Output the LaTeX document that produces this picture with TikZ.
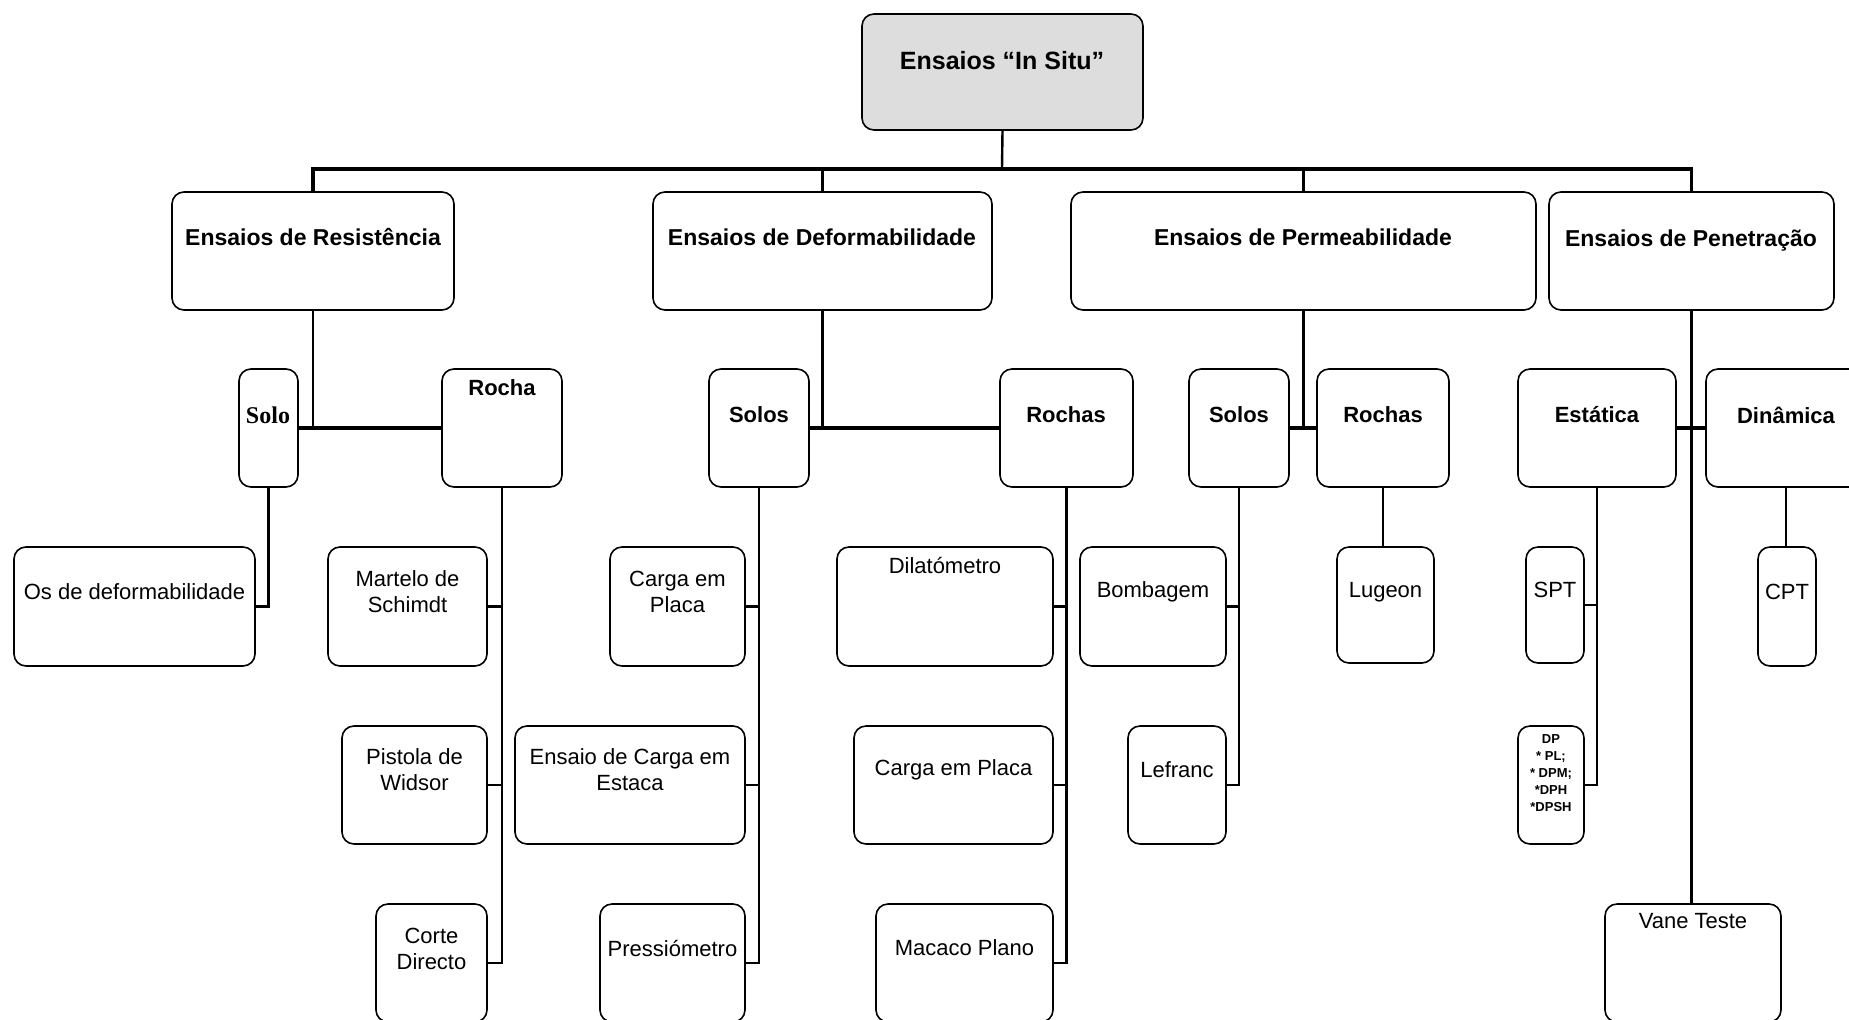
\documentclass[tikz,border=0pt]{standalone}
\usepackage{fontspec}
\setmainfont{Liberation Sans}
\newfontfamily\serifb{Liberation Serif}
\definecolor{rootgray}{HTML}{DDDDDD}
\tikzset{
  box/.style={draw, line width=0.8pt, rounded corners=6pt, inner sep=0pt},
  tx/.style={inner sep=0pt, align=center, font=\fontsize{11}{13}\selectfont},
  tb/.style={inner sep=0pt, align=center, font=\fontsize{11}{13}\selectfont\bfseries},
  tl/.style={inner sep=0pt, align=center, font=\fontsize{11.5}{13}\selectfont\bfseries},
  con/.style={line width=1.2pt},
  conb/.style={line width=1.8pt},
}
\newcommand\bx[6][]{\node[box,#1,minimum width={(#4-(#2))*0.5pt},minimum height={(#5-(#3))*0.5pt}] (#6) at ({(#2+#4)/2},{(#3+#5)/2}) {};}
\begin{document}
\begin{tikzpicture}[x=0.5pt,y=-0.5pt]
\useasboundingbox (0,0) rectangle (1849,1019);
% boxes
\bx[fill=rootgray]{862}{14}{1143}{130}{root}
\bx{172}{192}{454}{310}{res}
\bx{653}{192}{992}{310}{def}
\bx{1071}{192}{1536}{310}{perm}
\bx{1549}{192}{1834}{310}{pen}
\bx{239}{369}{298}{487}{solo1}
\bx{442}{369}{562}{487}{rocha1}
\bx{709}{369}{809}{487}{solos2}
\bx{1000}{369}{1133}{487}{rochas2}
\bx{1189}{369}{1289}{487}{solos3}
\bx{1317}{369}{1449}{487}{rochas3}
\bx{1518}{369}{1676}{487}{est}
\bx{1706}{369}{1866}{487}{din}
\bx{14}{547}{255}{666}{os}
\bx{328}{547}{487}{666}{mart}
\bx{610}{547}{745}{666}{carga1}
\bx{837}{547}{1053}{666}{dila}
\bx{1080}{547}{1226}{666}{bomb}
\bx{1337}{547}{1434}{663}{lug}
\bx{1526}{547}{1584}{663}{spt}
\bx{1758}{547}{1816}{666}{cpt}
\bx{342}{726}{487}{844}{pist}
\bx{515}{726}{745}{844}{estaca}
\bx{854}{726}{1053}{844}{carga2}
\bx{1128}{726}{1226}{844}{lef}
\bx{1518}{726}{1584}{844}{dp}
\bx{376}{904}{487}{1022}{corte}
\bx{600}{904}{745}{1022}{press}
\bx{876}{904}{1053}{1022}{macaco}
\bx{1605}{904}{1781}{1022}{vane}
% texts
\node[inner sep=0pt, font=\fontsize{12.5}{14}\selectfont\bfseries] (t-root) at (1002,61) {Ensaios “In Situ”};
\node[tl] (t-res) at (313,237) {Ensaios de Resistência};
\node[tl] (t-def) at (822,237) {Ensaios de Deformabilidade};
\node[tl] (t-perm) at (1303,237) {Ensaios de Permeabilidade};
\node[tl] (t-pen) at (1691,240.5) {Ensaios de Penetração};
\node[inner sep=0pt, font=\fontsize{12}{13}\selectfont\serifb\bfseries] (t-solo1) at (268,415) {Solo};
\node[tb] (t-rocha1) at (502,388) {Rocha};
\node[tb] (t-solos2) at (759,415) {Solos};
\node[tb] (t-rochas2) at (1066,415) {Rochas};
\node[tb] (t-solos3) at (1239,415) {Solos};
\node[tb] (t-rochas3) at (1383,415) {Rochas};
\node[tb] (t-est) at (1597,415) {Estática};
\node[tb] (t-din) at (1786,415) {Dinâmica};
\node[tx] (t-os) at (134.5,592) {Os de deformabilidade};
\node[tx] (t-mart) at (407.5,592) {Martelo de\\Schimdt};
\node[tx] (t-carga1) at (677.5,592) {Carga em\\Placa};
\node[tx] (t-dila) at (945,565) {Dilatómetro};
\node[tx] (t-bomb) at (1153,592) {Bombagem};
\node[tx] (t-lug) at (1385.5,592) {Lugeon};
\node[tx] (t-spt) at (1555,590) {SPT};
\node[tx] (t-cpt) at (1787,592) {CPT};
\node[tx] (t-pist) at (414.5,770) {Pistola de\\Widsor};
\node[tx] (t-estaca) at (630,770) {Ensaio de Carga em\\Estaca};
\node[tx] (t-carga2) at (953.5,770) {Carga em Placa};
\node[tx] (t-lef) at (1177,770) {Lefranc};
\node[inner sep=0pt, align=center, font=\fontsize{6.5}{8.6}\selectfont\bfseries] (t-dp) at (1551,773) {DP\\* PL;\\* DPM;\\*DPH\\*DPSH};
\node[tx] (t-corte) at (431.5,949) {Corte\\Directo};
\node[tx] (t-press) at (672.5,948) {Pressiómetro};
\node[tx] (t-macaco) at (964.5,948) {Macaco Plano};
\node[tx] (t-vane) at (1693,921) {Vane Teste};
% level 0 -> 1
\coordinate (bus) at (1002,169);
\draw[con] (root.south) -- (bus);
\draw[conb] (res.north) |- (bus);
\draw[conb] (pen.north) |- (bus);
\draw[con] (res.north) -- (res.north |- bus);
\draw[con] (def.north) -- (def.north |- bus);
\draw[con] (perm.north) -- (perm.north |- bus);
\draw[con] (pen.north) -- (pen.north |- bus);
% level 1 -> 2
\draw[con] (res.south) -- (res.south |- solo1.east);
\draw[conb] (solo1.east) -- (rocha1.west);
\draw[con] (def.south) -- (def.south |- solos2.east);
\draw[conb] (solos2.east) -- (rochas2.west);
\draw[con] (perm.south) -- (perm.south |- solos3.east);
\draw[conb] (solos3.east) -- (rochas3.west);
\draw[con] (pen.south) -- (pen.south |- vane.north);
\draw[conb] (est.east) -- (din.west);
% level 2 -> 3
\draw[conb] (solo1.south) |- (os.east);
\draw[con] (rocha1.south) |- (corte.east);
\draw[con] (mart.east) -- (mart.east -| rocha1.south);
\draw[con] (pist.east) -- (pist.east -| rocha1.south);
\draw[con] (solos2.south) |- (press.east);
\draw[con] (carga1.east) -- (carga1.east -| solos2.south);
\draw[con] (estaca.east) -- (estaca.east -| solos2.south);
\draw[con] (rochas2.south) |- (macaco.east);
\draw[con] (dila.east) -- (dila.east -| rochas2.south);
\draw[con] (carga2.east) -- (carga2.east -| rochas2.south);
\draw[con] (solos3.south) |- (lef.east);
\draw[con] (bomb.east) -- (bomb.east -| solos3.south);
\draw[con] (rochas3.south) -- (rochas3.south |- lug.north);
\draw[con] (est.south) |- (dp.east);
\draw[con] (spt.east) -- (spt.east -| est.south);
\draw[con] (din.south) -- (din.south |- cpt.north);
\end{tikzpicture}
\end{document}
